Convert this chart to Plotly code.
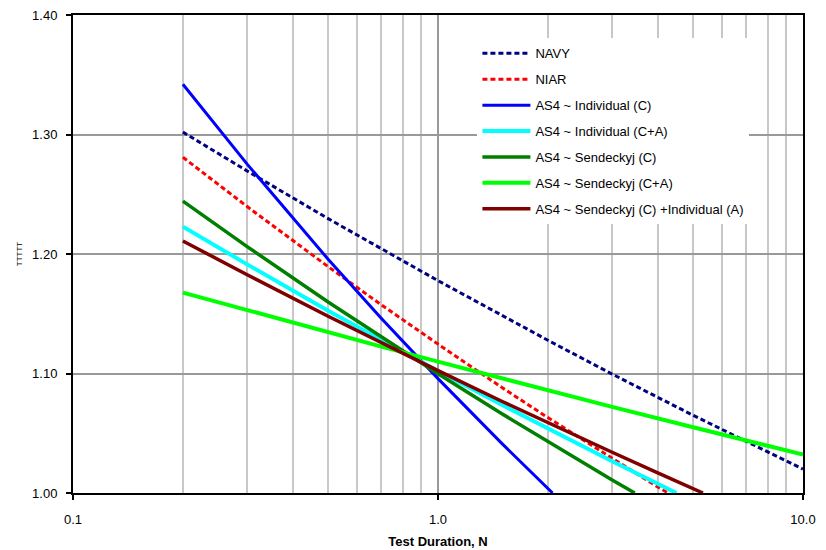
import plotly.graph_objects as go

# Test duration N values per series
navy_x = [0.2, 0.3, 0.5, 0.7, 1.0, 2.0, 3.0, 5.0, 7.0, 10.0]
navy_y = [1.302, 1.2695, 1.2296, 1.2041, 1.1777, 1.1278, 1.0995, 1.0650, 1.0429, 1.020]

niar_x = [0.2, 0.3, 0.5, 0.7, 1.0, 1.5, 2.0, 3.0, 4.0, 4.27]
niar_y = [1.281, 1.2397, 1.1894, 1.1574, 1.1246, 1.0881, 1.0631, 1.0287, 1.0050, 1.000]

ind_c_x = [0.2, 0.3, 0.5, 0.7, 1.0, 1.5, 2.06]
ind_c_y = [1.342, 1.2752, 1.1956, 1.1460, 1.0957, 1.0411, 1.000]

ind_ca_x = [0.2, 0.3, 0.5, 0.7, 1.0, 1.5, 2.0, 3.0, 4.0, 4.5]
ind_ca_y = [1.2229, 1.1913, 1.1526, 1.1278, 1.1021, 1.0736, 1.0539, 1.0266, 1.0078, 1.000]

sen_c_x = [0.2, 0.3, 0.5, 0.7, 1.0, 1.5, 2.0, 3.0, 3.46]
sen_c_y = [1.2443, 1.2062, 1.1598, 1.1303, 1.0998, 1.0661, 1.0429, 1.0109, 1.000]

sen_ca_x = [0.2, 0.3, 0.5, 0.7, 1.0, 1.5, 2.0, 3.0, 5.0, 7.0, 10.0]
sen_ca_y = [1.1677, 1.1529, 1.1344, 1.1225, 1.1099, 1.0958, 1.0860, 1.0721, 1.0550, 1.0438, 1.0322]

sen_ind_x = [0.2, 0.3, 0.5, 0.7, 1.0, 1.5, 2.0, 3.0, 4.0, 5.0, 5.32]
sen_ind_y = [1.2109, 1.1826, 1.1479, 1.1256, 1.1024, 1.0766, 1.0588, 1.0341, 1.0168, 1.0037, 1.000]

x_tickvals = [0.1, 1.0, 10.0]
x_ticktext = ["0.1", "1.0", "10.0"]

series = [
    ("NAVY", navy_x, navy_y, "#000080", 3, "5px,3px"),
    ("NIAR", niar_x, niar_y, "#ff0000", 3, "5px,3px"),
    ("AS4 ~ Individual (C)", ind_c_x, ind_c_y, "#0000ff", 3, "solid"),
    ("AS4 ~ Individual (C+A)", ind_ca_x, ind_ca_y, "#00ffff", 4, "solid"),
    ("AS4 ~ Sendeckyj (C)", sen_c_x, sen_c_y, "#008000", 3.5, "solid"),
    ("AS4 ~ Sendeckyj (C+A)", sen_ca_x, sen_ca_y, "#00ff00", 4, "solid"),
    ("AS4 ~ Sendeckyj (C) +Individual (A)", sen_ind_x, sen_ind_y, "#800000", 3.5, "solid"),
]

fig = go.Figure()
for i, (name, xs, ys, color, w, dash) in enumerate(series):
    fig.add_trace(go.Scatter(
        x=xs, y=ys, mode="lines", name=name,
        legendgroup=f"g{i}",
        line=dict(color=color, width=w, dash=dash),
    ))

font = "Liberation Sans, Arial, sans-serif"
fig.update_layout(
    width=818, height=542,
    margin=dict(l=65, r=23, t=7, b=57),
    paper_bgcolor="white", plot_bgcolor="white",
    font=dict(family=font, size=13, color="black"),
    showlegend=True,
    legend=dict(
        x=0.554, y=0.951, xanchor="left", yanchor="top",
        bgcolor="white", borderwidth=0,
        font=dict(family=font, size=13, color="black"),
        traceorder="grouped", tracegroupgap=6,
        itemwidth=48,
    ),
    xaxis=dict(
        type="log", range=[-1, 1], automargin=False,
        tickvals=x_tickvals, ticktext=x_ticktext,
        ticklabeloverflow="allow",
        showgrid=True, gridcolor="#999999", gridwidth=2,
        minor=dict(dtick="D1", showgrid=True, gridcolor="#c8c8c8", gridwidth=2, ticks=""),
        showline=True, linecolor="black", linewidth=2, mirror=True,
        ticks="outside", ticklen=5, tickwidth=2, tickcolor="black",
        ticklabelstandoff=8,
        title=dict(text="<b>Test Duration, N</b>", font=dict(family=font, size=13), standoff=11),
        zeroline=False,
    ),
    yaxis=dict(
        range=[1.0, 1.4], dtick=0.1, tickformat=".2f", automargin=False,
        ticklabeloverflow="allow",
        showgrid=True, gridcolor="#999999", gridwidth=2,
        showline=True, linecolor="black", linewidth=2, mirror=True,
        ticks="outside", ticklen=5, tickwidth=2, tickcolor="black",
        ticklabelstandoff=6,
        title=dict(text="TTTTT", font=dict(family=font, size=8), standoff=8),
        zeroline=False,
    ),
)

fig.write_html("out.html")
